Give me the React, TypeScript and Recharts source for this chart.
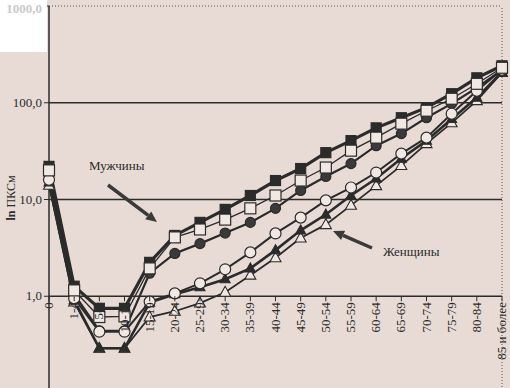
import React from "react";
import { LineChart, Line, XAxis, YAxis, ReferenceLine } from "recharts";

/* ---------- data ---------- */

const categories = [
  "0", "1-4", "5-9", "10-14", "15-19", "20-24", "25-29", "30-34", "35-39", "40-44",
  "45-49", "50-54", "55-59", "60-64", "65-69", "70-74", "75-79", "80-84", "85 и более",
];

// мужчины
const menFilledSq = [22, 1.27, 0.75, 0.75, 2.24, 4.25, 5.8, 7.9, 11.0, 15.7, 20.9, 30.5, 40.6, 55, 70, 89, 124, 181, 241];
const menOpenSq = [20, 1.15, 0.61, 0.62, 1.94, 4.06, 4.9, 6.2, 8.1, 11.0, 15.7, 21.4, 32, 43.6, 60.8, 82.7, 110, 157, 230];
const menFilledCircle = [18, 1.05, 0.44, 0.44, 1.73, 2.77, 3.5, 4.5, 5.8, 8.1, 12.4, 17.3, 23.5, 36, 48, 70, 98, 143, 219];

// женщины
const womenOpenCircle = [16, 0.95, 0.43, 0.43, 0.88, 1.07, 1.36, 1.9, 2.84, 4.46, 6.5, 9.8, 13.3, 19, 29.8, 43.6, 77, 133, 219];
const womenFilledTri = [15, 0.91, 0.29, 0.29, 0.86, 1.05, 1.24, 1.5, 1.94, 3.0, 4.8, 7.0, 11.0, 16.5, 26.5, 40.6, 68, 113, 208];
const womenOpenTri = [14, 0.87, 0.29, 0.29, 0.61, 0.70, 0.85, 1.1, 1.65, 2.5, 4.0, 5.5, 8.7, 13.9, 22.4, 37.8, 62, 105, 205];

const yTicks = [1, 10, 100, 1000];

const rows = categories.map((cat, i) => ({
  cat,
  mfs: menFilledSq[i],
  mos: menOpenSq[i],
  mfc: menFilledCircle[i],
  woc: womenOpenCircle[i],
  wft: womenFilledTri[i],
  wot: womenOpenTri[i],
}));

/* ---------- look ---------- */

const PAPER = "#e8dbd5";
const OPEN = "#f1e8e3";
const INK = "#2b2b2b";
const FONT = "'Liberation Serif', 'DejaVu Serif', serif";

const W = 510, H = 400;
const X_H = 7;
const M = { top: 6, right: 8, bottom: 0, left: 0 };
const PLOT_H = H - M.top - M.bottom - X_H;
// x axis crosses the log axis at 1,0 : 3 decades below the top (1000) of a 4-decade range
const AXIS_Y = M.top + PLOT_H * (Math.log10(1000) - Math.log10(1)) / 4;

const fmt = (v: number) => v.toFixed(1).replace(".", ",");

/* ---------- markers ---------- */

const sq = (filled: boolean, s: number) => (p: any) => {
  if (p.cx == null || p.cy == null) return <g key={p.index} />;
  return (
    <rect key={p.index} x={p.cx - s / 2} y={p.cy - s / 2} width={s} height={s}
      fill={filled ? INK : OPEN} stroke={INK} strokeWidth={1.2} />
  );
};
const circ = (filled: boolean, r: number) => (p: any) => {
  if (p.cx == null || p.cy == null) return <g key={p.index} />;
  return <circle key={p.index} cx={p.cx} cy={p.cy} r={r} fill={filled ? "#3a3a3a" : OPEN} stroke={INK} strokeWidth={1.2} />;
};
const tri = (filled: boolean, s: number) => (p: any) => {
  if (p.cx == null || p.cy == null) return <g key={p.index} />;
  const h = s * 0.9;
  const pts = `${p.cx},${p.cy - h * 0.6} ${p.cx - s / 2},${p.cy + h * 0.4} ${p.cx + s / 2},${p.cy + h * 0.4}`;
  return <polygon key={p.index} points={pts} fill={filled ? INK : OPEN} stroke={INK} strokeWidth={1.1} strokeLinejoin="miter" />;
};

/* ---------- axis ticks ---------- */

const CatTick = (props: any) => {
  const { x, payload } = props;
  return (
    <g>
      <line x1={x} x2={x} y1={AXIS_Y} y2={AXIS_Y + 5} stroke={INK} strokeWidth={1} />
      <text x={x + 4} y={AXIS_Y + 6} transform={`rotate(-90, ${x + 4}, ${AXIS_Y + 6})`}
        textAnchor="end" fontSize={13} fontFamily={FONT} fill={INK}>
        {payload.value}
      </text>
    </g>
  );
};

const ValTick = (props: any) => {
  const { x, y, payload } = props;
  if (payload.value === 1000) {
    return (
      <g>
        <rect x={0} y={0} width={47} height={52} fill="#ffffff" />
        <text x={x} y={y} dy={4} textAnchor="end" fontSize={13} fontWeight={700} fontFamily={FONT} fill="#c9c9c9">
          {fmt(payload.value)}
        </text>
      </g>
    );
  }
  return (
    <text x={x} y={y} dy={4} textAnchor="end" fontSize={13} fontFamily={FONT} fill={INK}>
      {fmt(payload.value)}
    </text>
  );
};

/* ---------- annotation arrow ---------- */

const Arrow = ({ x1, y1, x2, y2 }: { x1: number; y1: number; x2: number; y2: number }) => {
  const a = Math.atan2(y2 - y1, x2 - x1);
  const L = 11, Wd = 5;
  const bx = x2 - L * Math.cos(a), by = y2 - L * Math.sin(a);
  const p1 = `${bx + Wd * Math.sin(a)},${by - Wd * Math.cos(a)}`;
  const p2 = `${bx - Wd * Math.sin(a)},${by + Wd * Math.cos(a)}`;
  return (
    <g>
      <line x1={x1} y1={y1} x2={bx} y2={by} stroke="#3a3a3a" strokeWidth={3.5} />
      <polygon points={`${x2},${y2} ${p1} ${p2}`} fill="#3a3a3a" />
    </g>
  );
};

export default function App() {
  return (
    <div style={{ position: "absolute", left: 0, top: 0, width: 510, height: 388, overflow: "hidden", background: PAPER }}>
      <LineChart width={W} height={H} data={rows} margin={M}>
        <XAxis dataKey="cat" interval={0} axisLine={false} tickLine={false} height={X_H} tick={<CatTick />} />
        <YAxis scale="log" domain={[0.1, 1000]} allowDataOverflow ticks={yTicks} width={49}
          axisLine={{ stroke: INK, strokeWidth: 1.5 }} tickLine={{ stroke: INK }} tickSize={5}
          tick={<ValTick />} />

        <ReferenceLine y={1} stroke={INK} strokeWidth={1.3} />
        <ReferenceLine y={10} stroke={INK} strokeWidth={1.3} />
        <ReferenceLine y={100} stroke={INK} strokeWidth={1.3} />
        <ReferenceLine y={1000} stroke="#555" strokeWidth={1} strokeDasharray="1 2" />
        <ReferenceLine x="85 и более" stroke="#555" strokeWidth={1} strokeDasharray="1 2" />

        <Line dataKey="wot" stroke={INK} strokeWidth={1.8} dot={tri(false, 11)} isAnimationActive={false} />
        <Line dataKey="wft" stroke={INK} strokeWidth={2.6} dot={tri(true, 10)} isAnimationActive={false} />
        <Line dataKey="mfc" stroke={INK} strokeWidth={2.2} dot={circ(true, 5)} isAnimationActive={false} />
        <Line dataKey="woc" stroke={INK} strokeWidth={2} dot={circ(false, 5.5)} isAnimationActive={false} />
        <Line dataKey="mfs" stroke={INK} strokeWidth={3.2} dot={sq(true, 10)} isAnimationActive={false} />
        <Line dataKey="mos" stroke={INK} strokeWidth={1.3} dot={sq(false, 11)} isAnimationActive={false} />
      </LineChart>

      <svg width={510} height={388} style={{ position: "absolute", left: 0, top: 0, pointerEvents: "none" }}>
        <text x={15} y={198} transform="rotate(-90, 15, 198)" textAnchor="middle" fontSize={12}
          fontFamily={FONT} fill={INK}>
          <tspan fontWeight={700}>ln</tspan> ПКСм
        </text>
        <text x={89} y={170} fontSize={13} fontFamily={FONT} fill={INK}>Мужчины</text>
        <Arrow x1={108} y1={185} x2={157} y2={222} />
        <text x={383} y={256} fontSize={13} fontFamily={FONT} fill={INK}>Женщины</text>
        <Arrow x1={372} y1={248} x2={333} y2={231} />
      </svg>
    </div>
  );
}
